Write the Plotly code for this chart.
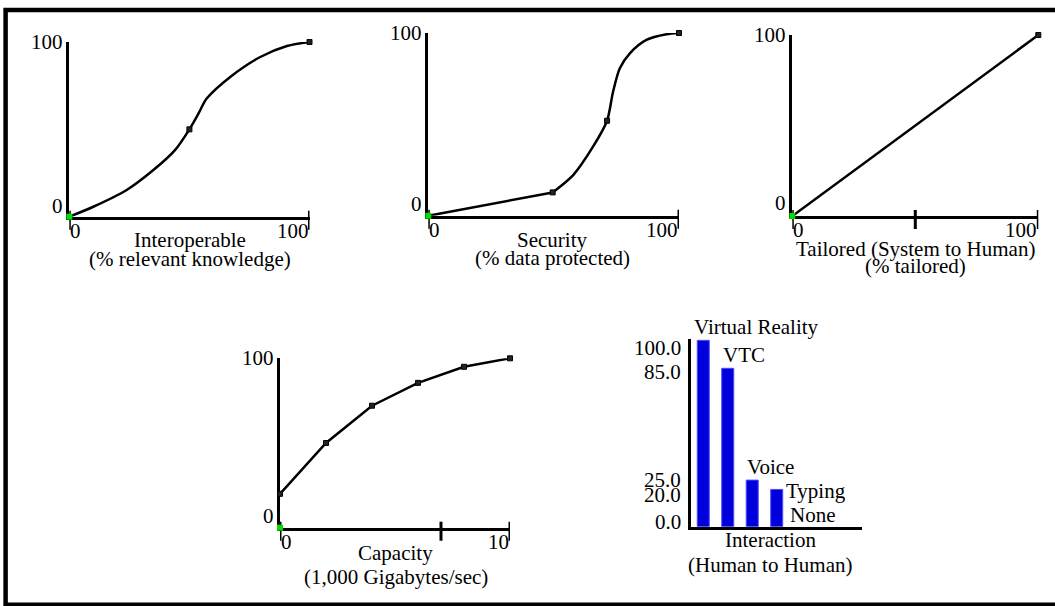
import plotly.graph_objects as go

W, H = 1055, 606
FONT = "Liberation Serif, Times New Roman, serif"
FS = 21

# ---------------- data ----------------
interop_x = [0, 10, 23.9, 35, 44, 50, 53.8, 57.2, 67, 79.5, 90.6, 100]
interop_y = [0, 5.7, 15.3, 26.7, 38.1, 50, 59.1, 67.6, 80, 91.4, 97.7, 100]
interop_mx = [50, 100]
interop_my = [50, 100]

security_x = [0, 49.6, 57.8, 65.7, 71.3, 73.7, 76.4, 80.4, 87, 95, 100]
security_y = [0, 12.8, 22.3, 37.8, 52, 67.9, 80.7, 88.9, 96.2, 99.3, 100]
security_mx = [49.6, 71.3, 100]
security_my = [12.8, 52, 100]

tailored_x = [0, 100]
tailored_y = [0, 100]
tailored_mx = [100]
tailored_my = [100]

capacity_x = [0, 2, 4, 6, 8, 10]
capacity_y = [20, 50, 72, 85.5, 95, 100]

origin_x = [0]
origin_y = [0]

interaction_cats = ["Virtual Reality", "VTC", "Voice", "Typing", "None"]
interaction_vals = [100, 85, 25, 20, 0]
interaction_ticks = [100, 85, 25, 20, 0]
interaction_ticktext = ["100.0", "85.0", "25.0", "20.0", "0.0"]

p1_xticks, p1_xlabels = [0, 100], ["0", "100"]
p2_xticks, p2_xlabels = [0, 100], ["0", "100"]
p3_xticks, p3_xlabels = [0, 50, 100], ["0", "", "100"]
p4_xticks, p4_xlabels = [0, 7, 10], ["0", "", "10"]
yticks_100, ylabels_100 = [0, 100], ["0", "100"]

titles = [
    ["Interoperable", "(% relevant knowledge)"],
    ["Security", "(% data protected)"],
    ["Tailored (System to Human)", "(% tailored)"],
    ["Capacity", "(1,000 Gigabytes/sec)"],
    ["Interaction", "(Human to Human)"],
]

# ---------------- layout helpers ----------------
def fx(px):
    return px / W

def fy(py):
    return 1 - py / H

# panel geometry in pixels: (x_left, x_right, y_bottom, y_top)
geo = {
    1: (69.3, 309.5, 216.7, 42.0),
    2: (428.3, 679.0, 215.8, 33.0),
    3: (792.3, 1038.3, 216.0, 35.0),
    4: (280.0, 510.0, 527.7, 358.3),
    5: (691.0, 861.7, 526.7, 338.5),
}
ranges = {
    1: ([0, 100], [0, 100]),
    2: ([0, 100], [0, 100]),
    3: ([0, 100], [0, 100]),
    4: ([0, 10], [0, 100]),
    5: ([-0.5, 6.47], [0, 101]),
}
title_pos = {
    1: [(189.5, 240), (190, 258.5)],
    2: [(552, 240), (552, 257.5)],
    3: [(915, 248.5), (915, 266)],
    4: [(395, 553), (396, 577)],
    5: [(770, 539.5), (770, 565)],
}
y0_label_shift = {1: 11, 2: 12, 3: 13, 4: 11.5}
bar_label_yshift = [-7.4, -3.4, 0, -5.6, 5]
bar_line_widths = [1, 1, 1, 1, 0]

fig = go.Figure()

def ax(i):
    return ("x" if i == 1 else f"x{i}"), ("y" if i == 1 else f"y{i}")

LINE = dict(color="black", width=2.5)
MK = dict(symbol="square", size=5, color="#222222", line=dict(color="black", width=1))
GREEN = dict(symbol="square", size=6, color="#00dd00", line=dict(width=0))

# Panel 1
xa, ya = ax(1)
fig.add_trace(go.Scatter(x=interop_x, y=interop_y, mode="lines", line=dict(shape="spline", smoothing=0.8, **LINE),
                         xaxis=xa, yaxis=ya, cliponaxis=False))
fig.add_trace(go.Scatter(x=interop_mx, y=interop_my, mode="markers", marker=MK, xaxis=xa, yaxis=ya, cliponaxis=False))

# Panel 2: straight lead-in then smooth S-curve
xa, ya = ax(2)
fig.add_trace(go.Scatter(x=security_x[:2], y=security_y[:2], mode="lines", line=LINE,
                         xaxis=xa, yaxis=ya, cliponaxis=False))
fig.add_trace(go.Scatter(x=security_x[1:], y=security_y[1:], mode="lines",
                         line=dict(shape="spline", smoothing=0.8, **LINE),
                         xaxis=xa, yaxis=ya, cliponaxis=False))
fig.add_trace(go.Scatter(x=security_mx, y=security_my, mode="markers", marker=MK, xaxis=xa, yaxis=ya, cliponaxis=False))

# Panel 3
xa, ya = ax(3)
fig.add_trace(go.Scatter(x=tailored_x, y=tailored_y, mode="lines", line=LINE, xaxis=xa, yaxis=ya, cliponaxis=False))
fig.add_trace(go.Scatter(x=tailored_mx, y=tailored_my, mode="markers", marker=MK, xaxis=xa, yaxis=ya, cliponaxis=False))

# Panel 4
xa, ya = ax(4)
fig.add_trace(go.Scatter(x=capacity_x, y=capacity_y, mode="lines+markers", line=LINE, marker=MK,
                         xaxis=xa, yaxis=ya, cliponaxis=False))

# green origin markers
for i in (1, 2, 3, 4):
    xa, ya = ax(i)
    fig.add_trace(go.Scatter(x=origin_x, y=origin_y, mode="markers", marker=GREEN,
                             xaxis=xa, yaxis=ya, cliponaxis=False))

# Panel 5: bars
xa, ya = ax(5)
fig.add_trace(go.Bar(x=interaction_cats, y=interaction_vals, width=0.49,
                     marker=dict(color="#0000dd", line=dict(color="#4a4aff", width=bar_line_widths)),
                     xaxis=xa, yaxis=ya, cliponaxis=False))

# ---------------- axes ----------------
layout = dict(
    width=W, height=H, margin=dict(l=0, r=0, t=0, b=0),
    paper_bgcolor="white", plot_bgcolor="white", showlegend=False,
    font=dict(family=FONT, size=FS, color="black"),
)
for i in range(1, 6):
    xl, xr, yb, yt = geo[i]
    xr_, yr_ = ranges[i]
    xa, ya = ax(i)
    xkey = "xaxis" if i == 1 else f"xaxis{i}"
    ykey = "yaxis" if i == 1 else f"yaxis{i}"
    common = dict(showgrid=False, zeroline=False, showticklabels=False, ticks="",
                  showline=True, linecolor="black", linewidth=3, fixedrange=True,
                  layer="below traces")
    layout[xkey] = dict(domain=[fx(xl), fx(xr)], range=xr_, anchor=ya, **common)
    layout[ykey] = dict(domain=[fy(yb), fy(yt)], range=yr_, anchor=xa, **common)
    if i == 5:
        layout[xkey]["type"] = "category"
        layout[xkey]["categoryorder"] = "array"
        layout[xkey]["categoryarray"] = interaction_cats
fig.update_layout(**layout)

shapes = []
annotations = []

# x ticks crossing the axis, and tick labels
xtick_sets = {1: (p1_xticks, p1_xlabels), 2: (p2_xticks, p2_xlabels),
              3: (p3_xticks, p3_xlabels), 4: (p4_xticks, p4_xlabels)}
for i, (tv, tl) in xtick_sets.items():
    xl, xr, yb, yt = geo[i]
    hpx = yb - yt
    xa, ya = ax(i)
    for k, (v, t) in enumerate(zip(tv, tl)):
        shapes.append(dict(type="line", xref=xa, yref=f"{ya} domain", x0=v, x1=v,
                           y0=-13 / hpx, y1=6 / hpx, layer="below",
                           line=dict(color="black", width=3)))
        if t:
            anchor = "left" if k == 0 else "right"
            annotations.append(dict(xref=xa, yref=ya, x=v, y=0, text=t, showarrow=False,
                                    xanchor=anchor, yanchor="middle", yshift=-14,
                                    xshift=(-1 if k == 0 else 1), font=dict(size=FS)))
    for v, t in zip(yticks_100, ylabels_100):
        annotations.append(dict(xref=xa, yref=ya, x=0, y=v, text=t, showarrow=False,
                                xanchor="right", yanchor="middle", xshift=-4,
                                yshift=(y0_label_shift[i] if v == 0 else 0), font=dict(size=FS)))

# bar chart y tick labels
xa, ya = ax(5)
for v, t, s in zip(interaction_ticks, interaction_ticktext, bar_label_yshift):
    annotations.append(dict(xref=f"{xa} domain", yref=ya, x=0, y=v, text=t, showarrow=False,
                            xanchor="right", yanchor="middle", xshift=-8, yshift=s, font=dict(size=FS)))

# bar category labels
for k, (c, v) in enumerate(zip(interaction_cats, interaction_vals)):
    if c == "Typing":
        annotations.append(dict(xref=xa, yref=ya, x=c, y=v, text=c, showarrow=False,
                                xanchor="left", yanchor="middle", xshift=7, yshift=-2, font=dict(size=FS)))
    elif c == "None":
        annotations.append(dict(xref=xa, yref=ya, x=c, y=v, text=c, showarrow=False,
                                xanchor="left", yanchor="bottom", xshift=-13, yshift=-2, font=dict(size=FS)))
    else:
        annotations.append(dict(xref=xa, yref=ya, x=c, y=v, text=c, showarrow=False,
                                xanchor="left", yanchor="bottom", xshift=(-11 if k == 0 else -7),
                                yshift=-1, font=dict(size=FS)))

# axis titles
for i in range(1, 6):
    for (cx, cy), t in zip(title_pos[i], titles[i - 1]):
        annotations.append(dict(xref="paper", yref="paper", x=fx(cx), y=fy(cy), text=t,
                                showarrow=False, xanchor="center", yanchor="middle", font=dict(size=FS)))

# outer frame
shapes.append(dict(type="rect", xref="paper", yref="paper", x0=fx(5.6), x1=fx(1062),
                   y0=fy(604.7), y1=fy(10), line=dict(color="black", width=4.5), fillcolor="rgba(0,0,0,0)"))

fig.update_layout(shapes=shapes, annotations=annotations)
fig.write_html("out.html", config={"displayModeBar": False},
               post_script="document.body.style.margin='0';document.body.style.overflow='hidden';")
